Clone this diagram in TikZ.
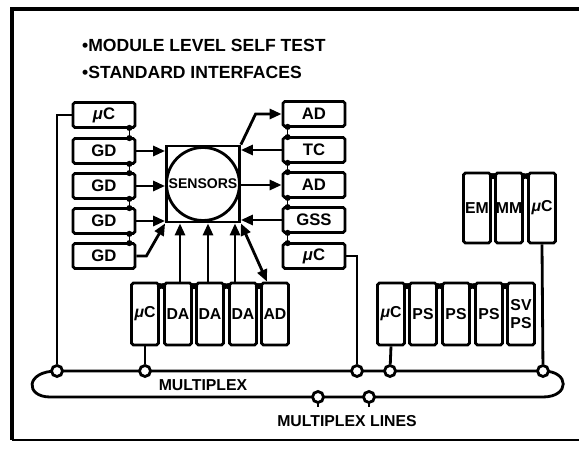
\documentclass[tikz,border=0pt]{standalone}
\usepackage{fontspec}
\setmainfont{Liberation Sans}
\usepackage{tikz}
\usetikzlibrary{arrows.meta,positioning,calc}

\tikzset{
  wire/.style={line width=1.6pt},
  sig/.style={wire, -{Triangle[length=2.4mm,width=2mm]}},
  link/.style={line width=1pt, {Circle[length=3.4pt]}-{Circle[length=3.4pt]}},
  hbox/.style={draw, line width=1.6pt, rounded corners=1pt, fill=white,
    minimum width=1.24cm, minimum height=0.5cm, inner sep=0pt,
    font=\fontsize{9.5}{10}\selectfont\bfseries},
  vbox/.style={hbox, minimum width=0.54cm, minimum height=1.24cm, align=center,
    font=\fontsize{9}{10}\selectfont\bfseries},
  tap/.style={circle, draw, line width=1.6pt, fill=white,
    minimum size=0.22cm, inner sep=0pt},
  lbl/.style={font=\fontsize{9}{10}\selectfont\bfseries},
}
\newcommand{\uc}{{\itshape μ}C}

\begin{document}
\begin{tikzpicture}[x=0.02cm, y=-0.02cm]
  \useasboundingbox (0,0) rectangle (579,452);
  % frame
  \draw[line width=1.8pt] (12,440) -- (12,9) -- (579,9);
  \draw[line width=1pt] (12,440) -- (579,440);
  % headings
  \node[anchor=west, font=\fontsize{10}{12}\selectfont\bfseries] (hdr1) at (76,45) {•MODULE LEVEL SELF TEST};
  \node[anchor=west, font=\fontsize{10}{12}\selectfont\bfseries] (hdr2) at (76,72) {•STANDARD INTERFACES};

  % sensors
  \node[draw, line width=1.6pt, minimum width=1.46cm, minimum height=1.52cm] (sen) at (203,184) {};
  \node[circle, draw, line width=1.6pt, minimum size=1.46cm, inner sep=0pt,
        font=\fontsize{8}{9}\selectfont\bfseries] (core) at (sen) {SENSORS};

  % left column
  \node[hbox] (lmc) at (104,115) {\uc};
  \node[hbox] (gd1) at (104,151) {GD};
  \node[hbox] (gd2) at (104,186) {GD};
  \node[hbox] (gd3) at (104,221) {GD};
  \node[hbox] (gd4) at (104,256) {GD};
  % right column
  \node[hbox] (rad1) at (314,114) {AD};
  \node[hbox] (tc)   at (314,150) {TC};
  \node[hbox] (rad2) at (314,185) {AD};
  \node[hbox] (gss)  at (314,220) {GSS};
  \node[hbox] (rmc)  at (314,256) {\uc};
  % lower row under sensors
  \node[vbox] (bmc) at (145,314) {\uc};
  \node[vbox] (da1) at (178,314) {DA};
  \node[vbox] (da2) at (210,314) {DA};
  \node[vbox] (da3) at (243,314) {DA};
  \node[vbox] (bad) at (275,314) {AD};
  % power supplies
  \node[vbox] (pmc)  at (391,314) {\uc};
  \node[vbox] (ps1)  at (423,314) {PS};
  \node[vbox] (ps2)  at (456,314) {PS};
  \node[vbox] (ps3)  at (489,314) {PS};
  \node[vbox] (svps) at (521,314) {SV\\PS};
  % memory group
  \node[vbox, minimum height=1.4cm] (em)  at (477,208) {EM};
  \node[vbox, minimum height=1.4cm] (mm)  at (509,208) {MM};
  \node[vbox, minimum height=1.4cm] (tmc) at (542,208) {\uc};

  % short links inside the groups
  \foreach \a/\b in {lmc/gd1, gd1/gd2, gd2/gd3, gd3/gd4}
    \draw[link] ([xshift=-0.14cm, yshift=0.08cm]\a.south east) -- ([xshift=-0.14cm, yshift=-0.08cm]\b.north east);
  \foreach \a/\b in {rad1/tc, tc/rad2, rad2/gss, gss/rmc}
    \draw[link] ([xshift=0.12cm, yshift=0.08cm]\a.south west) -- ([xshift=0.12cm, yshift=-0.08cm]\b.north west);
  \foreach \a/\b in {bmc/da1, da1/da2, da2/da3, da3/bad, pmc/ps1, ps1/ps2, ps2/ps3, ps3/svps, em/mm, mm/tmc}
    \draw[link] ([xshift=-0.06cm, yshift=-0.09cm]\a.north east) -- ([xshift=0.06cm, yshift=-0.09cm]\b.north west);

  % signals to and from the sensors
  \foreach \g in {gd1, gd2, gd3}
    \draw[sig] (\g.east) -- (\g.east -| sen.west);
  \draw[sig] (gd4.east) -- ++(10,0) -- (sen.south west);
  \draw[sig] (sen.north east) -- ($(rad1.west)+(-26,0)$) -- (rad1.west);
  \draw[sig] (tc.west) -- (tc.west -| sen.east);
  \draw[sig] (sen.east |- rad2.west) -- (rad2.west);
  \draw[sig] (gss.west) -- (gss.west -| sen.east);
  \foreach \b/\s in {da1/2, da2/-2, da3/-8}{
    \coordinate (\b-t) at ($(\b.north)+(\s,0)$);
    \draw[sig] (\b-t) -- (\b-t |- sen.south);
  }
  \coordinate (bad-t) at ($(bad.north)+(-8,0)$);
  \draw[wire, {Triangle[length=2.4mm,width=2mm]}-{Triangle[length=2.4mm,width=2mm]}] (sen.south east) -- (bad-t);

  % multiplex bus
  \draw[wire] (57,371) -- (543,371) .. controls (570,371) and (570,397) .. (543,397)
    -- (50,397) .. controls (25,397) and (25,371) .. (57,371);
  \node[tap] (t1) at (57,371) {};
  \node[tap] (t2) at (145,371) {};
  \node[tap] (t3) at (357,371) {};
  \node[tap] (t4) at (390,371) {};
  \node[tap] (t5) at (543,371) {};
  \draw[wire] (lmc.west) -| (t1);
  \draw[wire] (bmc.south) -- (t2);
  \draw[wire] (rmc.east) -| (t3);
  \draw[wire] (pmc.south) -- (t4);
  \draw[wire] (tmc.south) -- (t5);
  % multiplex lines
  \coordinate (p1e) at (318,407);
  \coordinate (p2e) at (369,407);
  \draw[wire] (318,397) -- (p1e);
  \draw[wire] (369,397) -- (p2e);
  \node[tap] (p1) at (318,397) {};
  \node[tap] (p2) at (369,397) {};

  \node[lbl] (mux) at (203,385) {MULTIPLEX};
  \node[lbl] (lines) at (347,421) {MULTIPLEX LINES};
\end{tikzpicture}
\end{document}
